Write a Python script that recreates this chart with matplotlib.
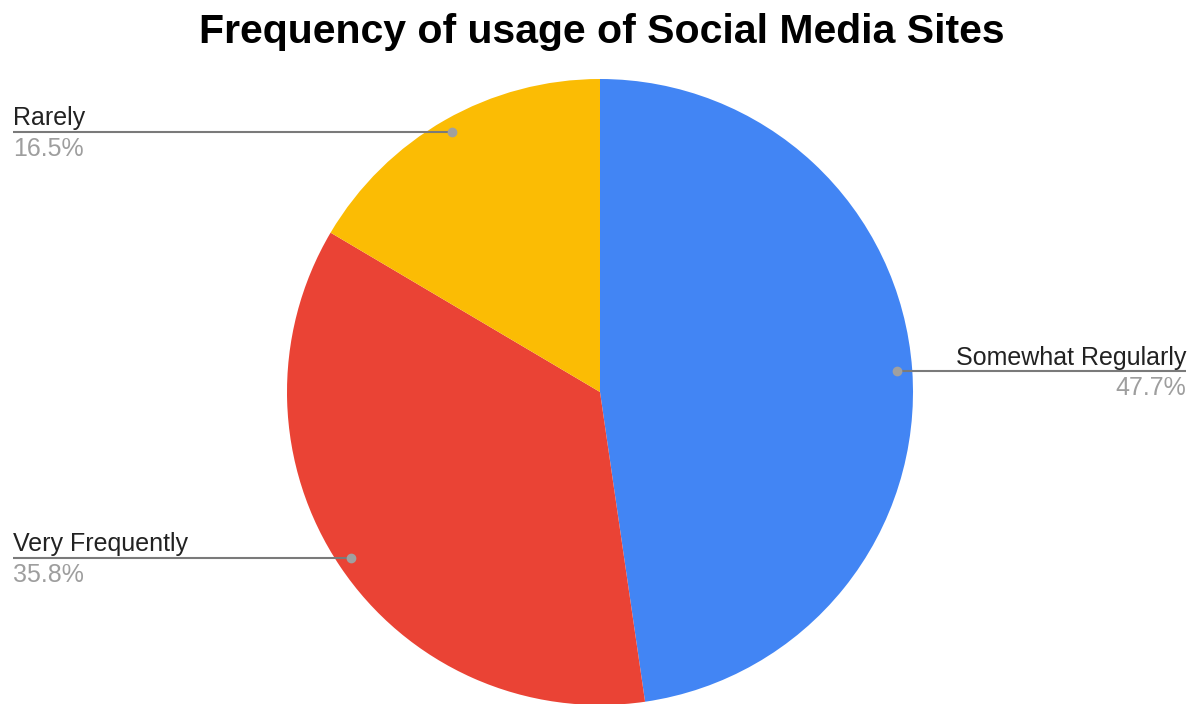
import matplotlib
matplotlib.use("Agg")
import matplotlib.pyplot as plt
import numpy as np

title = "Frequency of usage of Social Media Sites"
categories = ["Somewhat Regularly", "Very Frequently", "Rarely"]
values = [47.7, 35.8, 16.5]
colors = ["#4285F4", "#EA4335", "#FBBC04"]

W, H = 1204, 704
fig = plt.figure(figsize=(W / 100, H / 100), dpi=100)
ax = fig.add_axes([0, 0, 1, 1])

cx, cy, r = 600, H - 392, 313
wedges, _ = ax.pie(values, colors=colors, startangle=90, counterclock=False,
                   center=(cx, cy), radius=r, frame=True,
                   wedgeprops=dict(linewidth=0))
ax.set_xlim(0, W)
ax.set_ylim(0, H)
ax.set_aspect('equal')
ax.axis('off')

fig.text(0.5, 1 - 43 / H, title, ha='center', va='baseline',
         fontsize=29.5, fontweight='bold', family='Liberation Sans', color='#000000')

# label layout: (dot x, line y, text x end, side)
layout = {
    "Rarely": (452, 132, 13, 'left'),
    "Very Frequently": (351, 558, 13, 'left'),
    "Somewhat Regularly": (897, 371, 1186, 'right'),
}
for cat, val in zip(categories, values):
    dx, ly, tx, side = layout[cat]
    y = H - ly
    ax.plot([tx, dx], [y, y], color='#7a7a7a', lw=1.5, solid_capstyle='butt', zorder=3)
    ax.plot([dx], [y], 'o', color='#a0a0a0', ms=6, zorder=4)
    ax.text(tx, y + 6.5, cat, ha=side, va='baseline', fontsize=18,
            family='Liberation Sans', color='#222222')
    ax.text(tx, y - 24, f"{val}%", ha=side, va='baseline', fontsize=18,
            family='Liberation Sans', color='#9e9e9e')

fig.savefig("out.png", dpi=100, facecolor='white')
